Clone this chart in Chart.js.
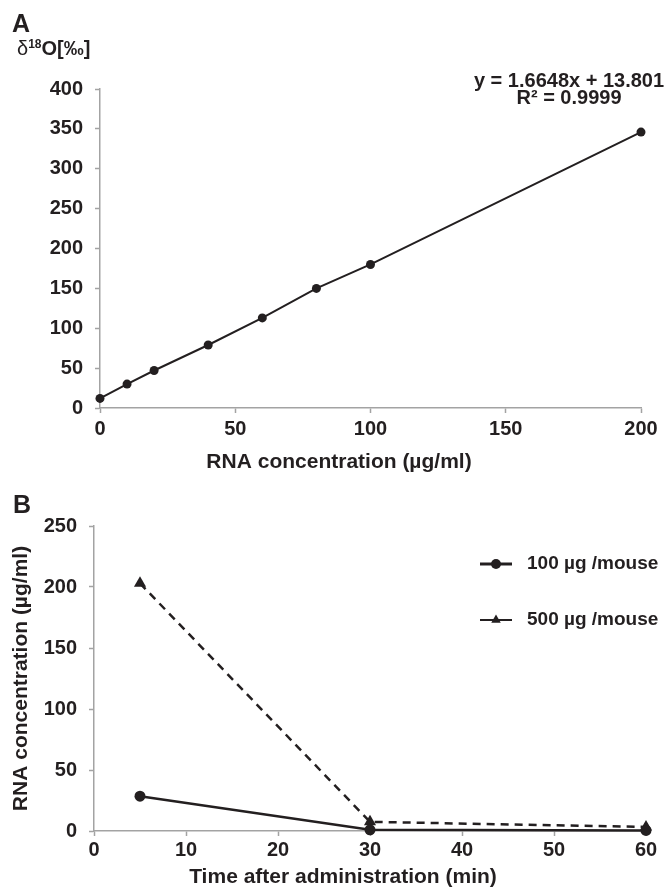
<!DOCTYPE html>
<html lang="en">
<head>
<meta charset="UTF-8">
<title>RNA concentration</title>
<script src="https://cdn.jsdelivr.net/npm/chart.js"></script>
<style>
    body { margin: 0; background: #fff; }
    .panel { position: absolute; left: 0; width: 666px; }
    #panelA { top: 0; height: 480px; }
    #panelB { top: 480px; height: 414px; }
</style>
</head>
<body>
<div class="panel" id="panelA"><canvas id="chartA" width="666" height="480"></canvas></div>
<div class="panel" id="panelB"><canvas id="chartB" width="666" height="414"></canvas></div>

<script>
// panel A: standard curve
const stdConc = [0, 10, 20, 40, 60, 80, 100, 200];
const stdDelta = [12, 30, 47, 79, 113, 150, 180, 346];
const fitText = ['y = 1.6648x + 13.801', 'R² = 0.9999'];
const aXTicks = [0, 50, 100, 150, 200];
const aYTicks = [0, 50, 100, 150, 200, 250, 300, 350, 400];

// panel B: time course
const timeMin = [5, 30, 60];
const dose100 = [28.5, 1, 0.5];
const dose500 = [203, 7.5, 3.3];
const seriesNames = ['100 µg /mouse', '500 µg /mouse'];
const bXTicks = [0, 10, 20, 30, 40, 50, 60];
const bYTicks = [0, 50, 100, 150, 200, 250];

const INK = '#231f20';
const AXIS = '#a3a3a3';
const FAMILY = '"Liberation Sans", Arial, sans-serif';

function toPoints(xs, ys) {
    return xs.map((x, i) => ({ x: x, y: ys[i] }));
}

function axis(ticksArr, pad, fitSize, horizontal) {
    return {
        type: 'linear',
        min: ticksArr[0],
        max: ticksArr[ticksArr.length - 1],
        border: { color: AXIS, width: 1.5 },
        grid: { drawOnChartArea: false, color: AXIS, tickLength: 5, tickWidth: 1.5 },
        ticks: { color: INK, padding: pad, font: { family: FAMILY, size: 20, weight: 'bold' } },
        afterBuildTicks: s => { s.ticks = ticksArr.map(v => ({ value: v })); },
        afterFit: s => { if (horizontal) s.height = fitSize; else s.width = fitSize; }
    };
}

function boldFont(size) { return 'bold ' + size + 'px ' + FAMILY; }

const textsA = {
    id: 'textsA',
    afterDraw(chart) {
        const ctx = chart.ctx;
        ctx.save();
        ctx.fillStyle = INK;
        ctx.textBaseline = 'alphabetic';
        ctx.textAlign = 'left';
        ctx.font = boldFont(25);
        ctx.fillText('A', 12, 32);
        // δ18O[‰]
        ctx.font = '20px ' + FAMILY;
        ctx.fillText('δ', 17, 55);
        let x = 17 + ctx.measureText('δ').width;
        ctx.font = boldFont(12);
        ctx.fillText('18', x, 48);
        x += ctx.measureText('18').width;
        ctx.font = boldFont(20);
        ctx.fillText('O[‰]', x, 55);
        // fit equation
        ctx.textAlign = 'center';
        ctx.textBaseline = 'middle';
        ctx.font = boldFont(20);
        ctx.fillText(fitText[0], 569, 81);
        ctx.fillText(fitText[1], 569, 98);
        // x title
        ctx.font = boldFont(21);
        ctx.fillText('RNA concentration (µg/ml)', 339, 462);
        ctx.restore();
    }
};

function marker(ctx, style, x, y, r) {
    ctx.beginPath();
    if (style === 'triangle') {
        ctx.moveTo(x, y - r);
        ctx.lineTo(x + r * 0.866, y + r * 0.5);
        ctx.lineTo(x - r * 0.866, y + r * 0.5);
        ctx.closePath();
    } else {
        ctx.arc(x, y, r, 0, Math.PI * 2);
    }
    ctx.fill();
}

const textsB = {
    id: 'textsB',
    afterDraw(chart) {
        const ctx = chart.ctx;
        ctx.save();
        ctx.fillStyle = INK;
        ctx.strokeStyle = INK;
        ctx.textAlign = 'left';
        ctx.textBaseline = 'alphabetic';
        ctx.font = boldFont(25);
        ctx.fillText('B', 13, 33);
        // legend
        ctx.textBaseline = 'middle';
        ctx.font = boldFont(19);
        chart.data.datasets.forEach((ds, i) => {
            const y = 84 + i * 56;
            ctx.lineWidth = i === 0 ? 3 : 2;
            ctx.beginPath();
            ctx.moveTo(480, y);
            ctx.lineTo(512, y);
            ctx.stroke();
            marker(ctx, ds.pointStyle, 496, y, i === 0 ? 5 : 5.5);
            ctx.fillText(ds.label, 527, y);
        });
        // x title
        ctx.textAlign = 'center';
        ctx.font = boldFont(21);
        ctx.fillText('Time after administration (min)', 343, 397);
        ctx.restore();
    }
};

new Chart(document.getElementById('chartA'), {
    type: 'scatter',
    data: {
        datasets: [{
            data: toPoints(stdConc, stdDelta),
            showLine: true,
            clip: false,
            borderColor: INK,
            borderWidth: 2,
            backgroundColor: INK,
            pointRadius: 4.5,
            pointBorderWidth: 0
        }]
    },
    options: {
        responsive: false,
        animation: false,
        layout: { padding: { left: 0, right: 25, top: 89, bottom: 0 } },
        plugins: { legend: { display: false }, tooltip: { enabled: false } },
        scales: {
            x: axis(aXTicks, 4, 72, true),
            y: axis(aYTicks, 12, 100, false)
        }
    },
    plugins: [textsA]
});

const yB = axis(bYTicks, 12, 94, false);
yB.title = {
    display: true,
    text: 'RNA concentration (µg/ml)',
    color: INK,
    font: { family: FAMILY, size: 21, weight: 'bold' },
    padding: { top: 9, bottom: 0 }
};

new Chart(document.getElementById('chartB'), {
    type: 'scatter',
    data: {
        datasets: [{
            label: seriesNames[0],
            data: toPoints(timeMin, dose100),
            showLine: true,
            clip: false,
            borderColor: INK,
            borderWidth: 2.5,
            backgroundColor: INK,
            pointStyle: 'circle',
            pointRadius: 5.5,
            pointBorderWidth: 0
        }, {
            label: seriesNames[1],
            data: toPoints(timeMin, dose500),
            showLine: true,
            clip: false,
            borderColor: INK,
            borderWidth: 2.5,
            borderDash: [8, 6],
            backgroundColor: INK,
            pointStyle: 'triangle',
            pointRadius: 7,
            pointBorderWidth: 0
        }]
    },
    options: {
        responsive: false,
        animation: false,
        layout: { padding: { left: 0, right: 20, top: 46, bottom: 0 } },
        plugins: { legend: { display: false }, tooltip: { enabled: false } },
        scales: {
            x: axis(bXTicks, 2, 63, true),
            y: yB
        }
    },
    plugins: [textsB]
});
</script>
</body>
</html>
